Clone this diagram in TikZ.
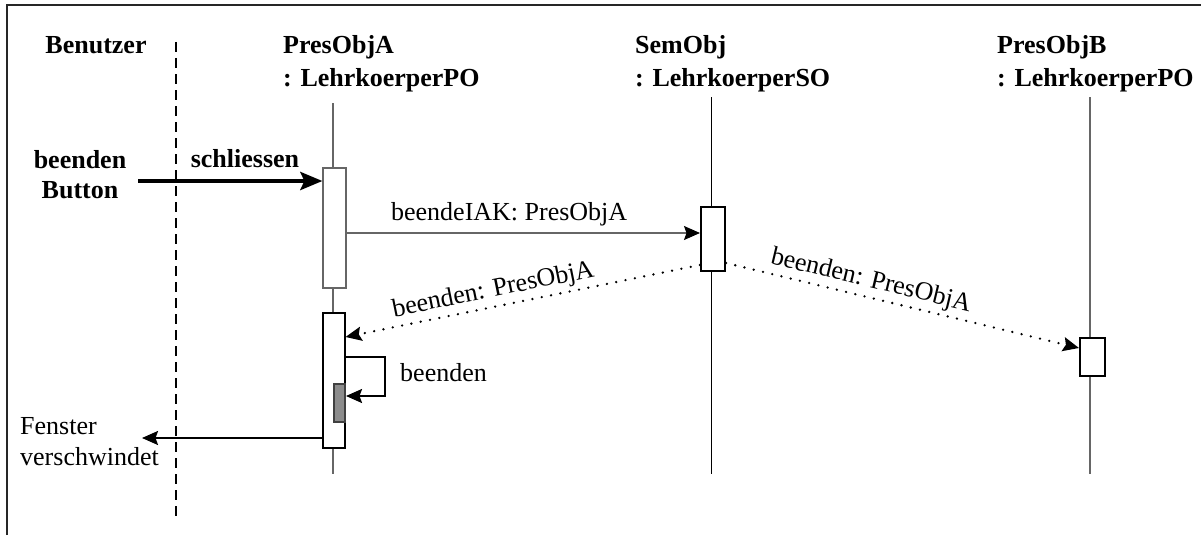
\documentclass[tikz,border=0pt]{standalone}
\usepackage{fontspec}
\setmainfont{Liberation Serif}
\usetikzlibrary{arrows.meta}
\begin{document}
\begin{tikzpicture}[x=1pt,y=-1pt,
  txt/.style={inner sep=0pt, font=\fontsize{26}{33}\selectfont},
  hdr/.style={inner sep=0pt, font=\fontsize{26}{33}\selectfont\bfseries},
  life/.style={line width=1.2pt, draw=black!60},
  actbox/.style={draw, fill=white, inner sep=0pt, line width=2pt},
  graybox/.style={draw=black!60, fill=white, inner sep=0pt, line width=1.2pt},
  tip/.style={-{Stealth[length=16pt,width=14pt,inset=2.5pt,black]}},
  bigtip/.style={-{Stealth[length=22pt,width=18pt,inset=4pt]}},
  dotline/.style={line width=2.6pt, dash pattern=on 0pt off 9.5pt, line cap=round},
  lbl/.style={inner sep=0pt, font=\fontsize{26}{33}\selectfont}
]
\useasboundingbox (0,0) rectangle (1201,535);
% frame
\draw[line width=1.5pt, black!85] (7,535) -- (7,5) -- (1201,5);

% headers
\node[hdr, anchor=base] (ben) at (96,53) {Benutzer};
\node[hdr, anchor=base west] (pa1) at (283,53) {PresObjA};
\node[hdr, anchor=base west] (pa2) at (283,86) {: LehrkoerperPO};
\node[hdr, anchor=base west] (so1) at (635,53) {SemObj};
\node[hdr, anchor=base west] (so2) at (635,86) {: LehrkoerperSO};
\node[hdr, anchor=base west] (pb1) at (997,53) {PresObjB};
\node[hdr, anchor=base west] (pb2) at (997,86) {: LehrkoerperPO};

% system boundary
\coordinate (dtop) at (176,42);
\coordinate (dbot) at (176,522);
\draw[line width=2pt, dash pattern=on 10pt off 6pt] (dtop) -- (dbot);

% lifelines
\coordinate (lAt) at (333,103); \coordinate (lAb) at (333,474);
\coordinate (lSt) at (711,97);  \coordinate (lSb) at (711,474);
\coordinate (lBt) at (1090,97); \coordinate (lBb) at (1090,474);
\draw[life] (lAt) -- (lAb);
\draw[line width=1pt] (lSt) -- (lSb);
\draw[life] (lBt) -- (lBb);

% activation boxes
\node[graybox, minimum width=23pt, minimum height=120pt] (a1) at (334.5,228) {};
\node[actbox, minimum width=22pt, minimum height=135pt] (a2) at (333.5,380) {};
\node[draw=black!75, fill=black!45, line width=2pt, inner sep=0pt, minimum width=11pt, minimum height=38pt] (ai) at (339.5,403) {};
\node[actbox, minimum width=24pt, minimum height=64pt] (s1) at (713,239) {};
\node[actbox, minimum width=25pt, minimum height=38pt] (b1) at (1092.5,357) {};

% user texts
\node[hdr, anchor=base] (bb1) at (80,168) {beenden};
\node[hdr, anchor=base] (bb2) at (80,198) {Button};
\coordinate (btn) at (138,181);
\draw[line width=4pt, bigtip] (btn) -- (a1.west |- btn)
  node[hdr, pos=0.58, anchor=base, yshift=14pt] (schl) {schliessen};

% beendeIAK
\draw[line width=1.3pt, draw=black!60, tip] (a1.east |- 0,233) -- (s1.west |- 0,233)
  node[lbl, pos=0.46, anchor=base, yshift=13pt] (iak) {beendeIAK: PresObjA};

% dotted returns
\draw[dotline, tip] (s1.west |- 0,265) -- (a2.east |- 0,337)
  node[lbl, pos=0.574, sloped, above=3pt] (r1) {beenden: PresObjA};
\draw[dotline, tip] (s1.east |- 0,263) -- (b1.west |- 0,348)
  node[lbl, pos=0.40, sloped, above=3pt] (r2) {beenden: PresObjA};

% self call
\coordinate (selfc) at (385,396);
\draw[line width=2pt, tip] (a2.east |- 0,357) -| (selfc) -- (ai.east |- selfc);
\node[lbl, anchor=base west] (selfl) at (400,381) {beenden};

% window disappears
\coordinate (fen) at (142,438);
\draw[line width=2pt, tip] (a2.west |- fen) -- (fen);
\node[lbl, anchor=base west] (f1) at (20,434) {Fenster};
\node[lbl, anchor=base west] (f2) at (20,465) {verschwindet};
\end{tikzpicture}
\end{document}
